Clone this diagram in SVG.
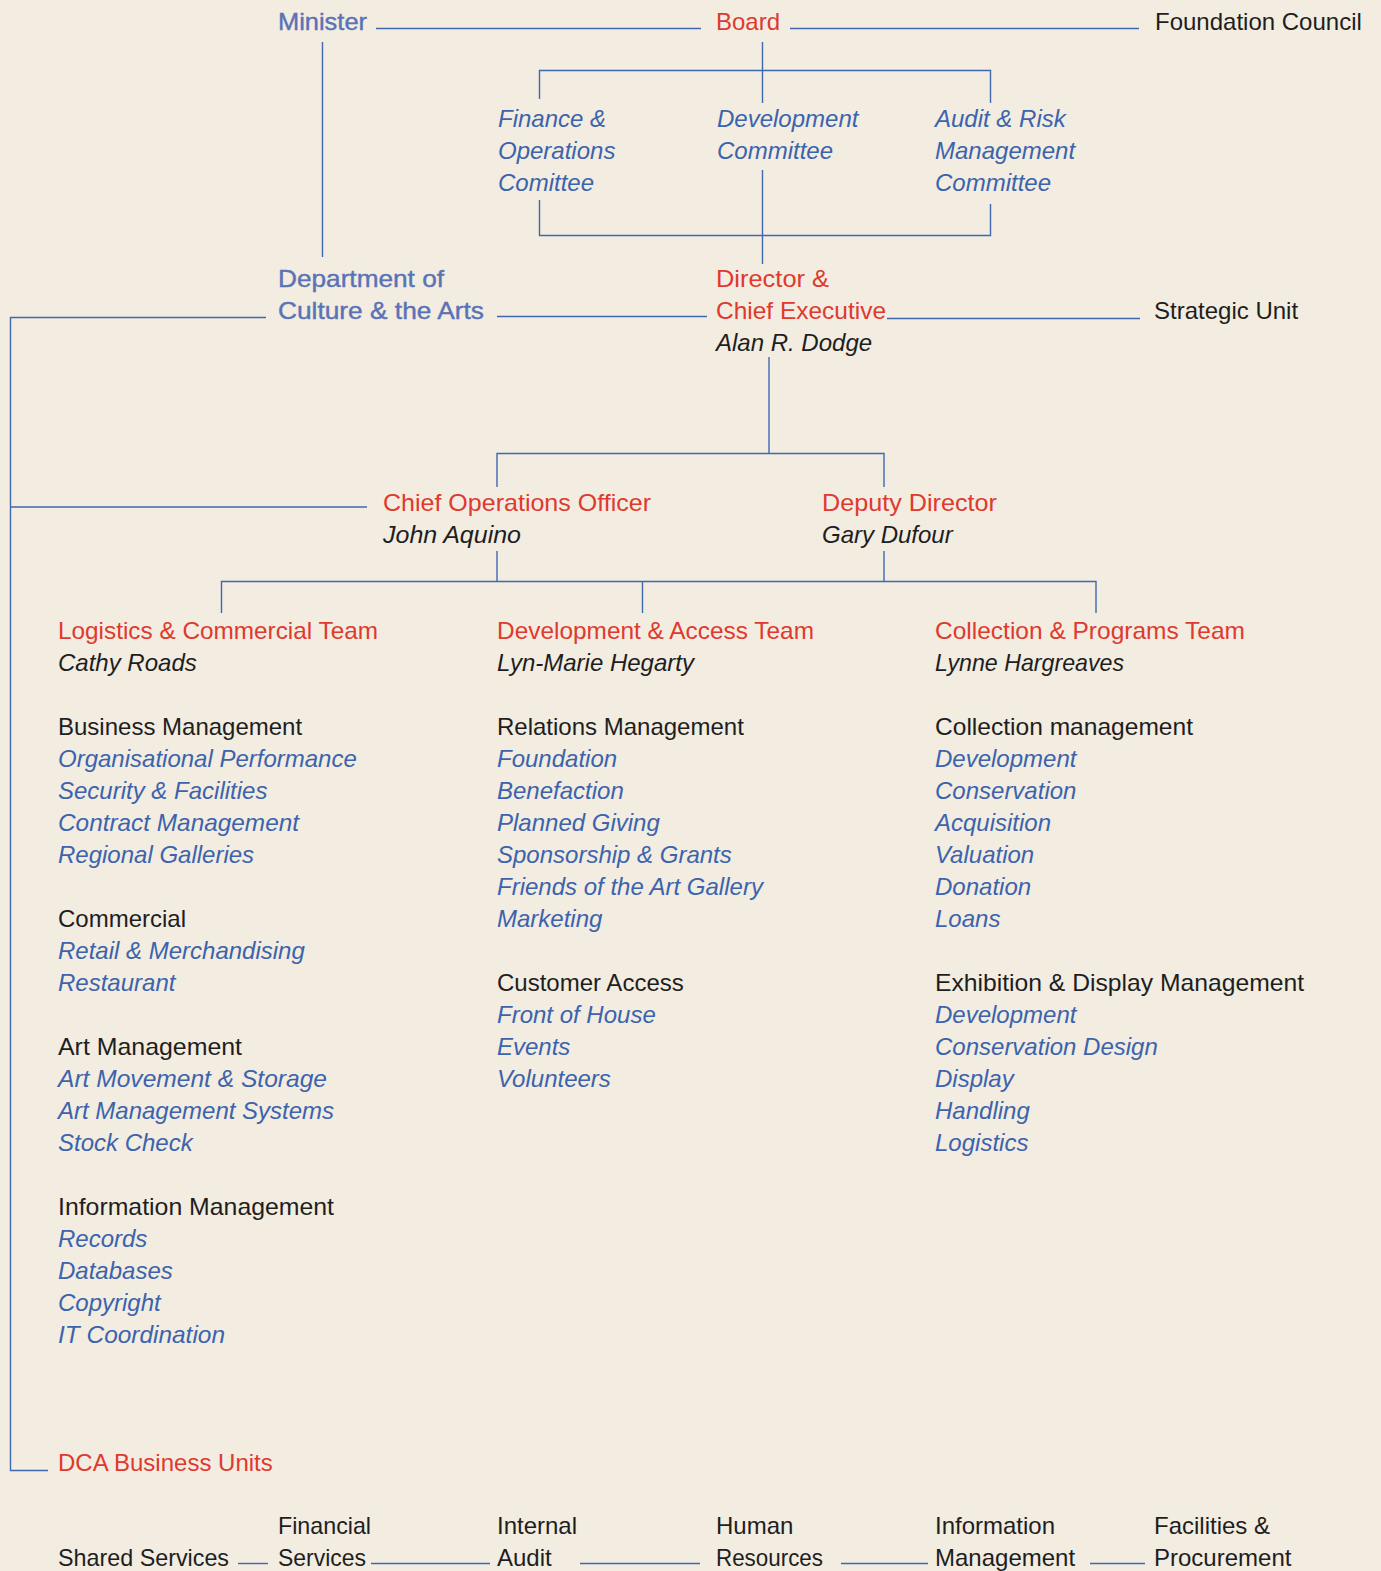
<svg xmlns="http://www.w3.org/2000/svg" width="1381" height="1571" viewBox="0 0 1381 1571">
<style>
text{font-family:"Liberation Sans",Arial,sans-serif;font-size:24px}
.red{fill:#E0392E}
.blk{fill:#1E1E1E}
.bi{fill:#3C63AD;font-style:italic}
.ki{fill:#1E1E1E;font-style:italic}
.gb{fill:#5A72B6;stroke:#5A72B6;stroke-width:0.4}
#connectors line,#connectors polyline{stroke:#4068AF;stroke-width:1.4;fill:none}
</style>
<rect x="0" y="0" width="1381" height="1571" fill="#F2ECE1"/>
<g id="connectors">
<line x1="376" y1="28.5" x2="701" y2="28.5"/>
<line x1="790" y1="28.5" x2="1139" y2="28.5"/>
<line x1="322.5" y1="42" x2="322.5" y2="257"/>
<line x1="762.5" y1="42" x2="762.5" y2="103"/>
<polyline points="539.5,99 539.5,70.5 990.5,70.5 990.5,103"/>
<polyline points="539.5,200 539.5,235.5 990.5,235.5 990.5,204"/>
<line x1="762.5" y1="170" x2="762.5" y2="264"/>
<line x1="10" y1="317.5" x2="266" y2="317.5"/>
<line x1="497" y1="316.5" x2="707" y2="316.5"/>
<line x1="887" y1="318.5" x2="1140" y2="318.5"/>
<polyline points="10.5,317 10.5,1470.5 48,1470.5"/>
<line x1="10" y1="507" x2="367" y2="507"/>
<line x1="769" y1="357" x2="769" y2="453.5"/>
<polyline points="497,487 497,453.5 884,453.5 884,487"/>
<line x1="497" y1="551" x2="497" y2="581.5"/>
<line x1="884" y1="551" x2="884" y2="581.5"/>
<polyline points="221.5,613 221.5,581.5 1096,581.5 1096,613"/>
<line x1="642.5" y1="581.5" x2="642.5" y2="613"/>
<line x1="238" y1="1563.5" x2="268" y2="1563.5"/>
<line x1="371" y1="1563.5" x2="490" y2="1563.5"/>
<line x1="580" y1="1563.5" x2="700" y2="1563.5"/>
<line x1="841" y1="1563.5" x2="928" y2="1563.5"/>
<line x1="1090" y1="1563.5" x2="1145" y2="1563.5"/>
</g>
<g id="minister"><text class="gb" x="278" y="30" textLength="89" lengthAdjust="spacingAndGlyphs">Minister</text></g>
<g id="board"><text class="red" x="716" y="30">Board</text></g>
<g id="foundation-council"><text class="blk" x="1155" y="30">Foundation Council</text></g>
<g id="finance-committee"><text class="bi" x="498" y="127">Finance &amp;</text><text class="bi" x="498" y="159">Operations</text><text class="bi" x="498" y="191">Comittee</text></g>
<g id="development-committee"><text class="bi" x="717" y="127">Development</text><text class="bi" x="717" y="159">Committee</text></g>
<g id="audit-committee"><text class="bi" x="935" y="127">Audit &amp; Risk</text><text class="bi" x="935" y="159">Management</text><text class="bi" x="935" y="191">Committee</text></g>
<g id="department"><text class="gb" x="278" y="287" textLength="166" lengthAdjust="spacingAndGlyphs">Department of</text><text class="gb" x="278" y="319" textLength="206" lengthAdjust="spacingAndGlyphs">Culture &amp; the Arts</text></g>
<g id="director"><text class="red" x="716" y="287" textLength="113" lengthAdjust="spacingAndGlyphs">Director &amp;</text><text class="red" x="716" y="319" textLength="170" lengthAdjust="spacingAndGlyphs">Chief Executive</text><text class="ki" x="716" y="351">Alan R. Dodge</text></g>
<g id="strategic-unit"><text class="blk" x="1154" y="319">Strategic Unit</text></g>
<g id="coo"><text class="red" x="383" y="511" textLength="268" lengthAdjust="spacingAndGlyphs">Chief Operations Officer</text><text class="ki" x="383" y="543" textLength="138" lengthAdjust="spacingAndGlyphs">John Aquino</text></g>
<g id="deputy"><text class="red" x="822" y="511" textLength="175" lengthAdjust="spacingAndGlyphs">Deputy Director</text><text class="ki" x="822" y="543">Gary Dufour</text></g>
<g id="logistics-team">
<text class="red" x="58" y="639" textLength="320" lengthAdjust="spacingAndGlyphs">Logistics &amp; Commercial Team</text>
<text class="ki" x="58" y="671">Cathy Roads</text>
<text class="blk" x="58" y="735">Business Management</text>
<text class="bi" x="58" y="767">Organisational Performance</text>
<text class="bi" x="58" y="799">Security &amp; Facilities</text>
<text class="bi" x="58" y="831" textLength="241" lengthAdjust="spacingAndGlyphs">Contract Management</text>
<text class="bi" x="58" y="863">Regional Galleries</text>
<text class="blk" x="58" y="927">Commercial</text>
<text class="bi" x="58" y="959">Retail &amp; Merchandising</text>
<text class="bi" x="58" y="991">Restaurant</text>
<text class="blk" x="58" y="1055" textLength="184" lengthAdjust="spacingAndGlyphs">Art Management</text>
<text class="bi" x="58" y="1087" textLength="269" lengthAdjust="spacingAndGlyphs">Art Movement &amp; Storage</text>
<text class="bi" x="58" y="1119">Art Management Systems</text>
<text class="bi" x="58" y="1151">Stock Check</text>
<text class="blk" x="58" y="1215" textLength="276" lengthAdjust="spacingAndGlyphs">Information Management</text>
<text class="bi" x="58" y="1247">Records</text>
<text class="bi" x="58" y="1279">Databases</text>
<text class="bi" x="58" y="1311">Copyright</text>
<text class="bi" x="58" y="1343" textLength="167" lengthAdjust="spacingAndGlyphs">IT Coordination</text>
</g>
<g id="development-team">
<text class="red" x="497" y="639" textLength="317" lengthAdjust="spacingAndGlyphs">Development &amp; Access Team</text>
<text class="ki" x="497" y="671">Lyn-Marie Hegarty</text>
<text class="blk" x="497" y="735">Relations Management</text>
<text class="bi" x="497" y="767">Foundation</text>
<text class="bi" x="497" y="799">Benefaction</text>
<text class="bi" x="497" y="831">Planned Giving</text>
<text class="bi" x="497" y="863">Sponsorship &amp; Grants</text>
<text class="bi" x="497" y="895">Friends of the Art Gallery</text>
<text class="bi" x="497" y="927">Marketing</text>
<text class="blk" x="497" y="991">Customer Access</text>
<text class="bi" x="497" y="1023">Front of House</text>
<text class="bi" x="497" y="1055">Events</text>
<text class="bi" x="497" y="1087">Volunteers</text>
</g>
<g id="collection-team">
<text class="red" x="935" y="639" textLength="310" lengthAdjust="spacingAndGlyphs">Collection &amp; Programs Team</text>
<text class="ki" x="935" y="671" textLength="189" lengthAdjust="spacingAndGlyphs">Lynne Hargreaves</text>
<text class="blk" x="935" y="735" textLength="258" lengthAdjust="spacingAndGlyphs">Collection management</text>
<text class="bi" x="935" y="767">Development</text>
<text class="bi" x="935" y="799">Conservation</text>
<text class="bi" x="935" y="831">Acquisition</text>
<text class="bi" x="935" y="863">Valuation</text>
<text class="bi" x="935" y="895">Donation</text>
<text class="bi" x="935" y="927">Loans</text>
<text class="blk" x="935" y="991" textLength="369" lengthAdjust="spacingAndGlyphs">Exhibition &amp; Display Management</text>
<text class="bi" x="935" y="1023">Development</text>
<text class="bi" x="935" y="1055">Conservation Design</text>
<text class="bi" x="935" y="1087">Display</text>
<text class="bi" x="935" y="1119">Handling</text>
<text class="bi" x="935" y="1151">Logistics</text>
</g>
<g id="dca-business-units"><text class="red" x="58" y="1471">DCA Business Units</text></g>
<g id="shared-services"><text class="blk" x="58" y="1566" textLength="171" lengthAdjust="spacingAndGlyphs">Shared Services</text></g>
<g id="financial-services"><text class="blk" x="278" y="1534" textLength="93" lengthAdjust="spacingAndGlyphs">Financial</text><text class="blk" x="278" y="1566" textLength="88" lengthAdjust="spacingAndGlyphs">Services</text></g>
<g id="internal-audit"><text class="blk" x="497" y="1534">Internal</text><text class="blk" x="497" y="1566">Audit</text></g>
<g id="human-resources"><text class="blk" x="716" y="1534">Human</text><text class="blk" x="716" y="1566" textLength="107" lengthAdjust="spacingAndGlyphs">Resources</text></g>
<g id="information-management"><text class="blk" x="935" y="1534">Information</text><text class="blk" x="935" y="1566">Management</text></g>
<g id="facilities-procurement"><text class="blk" x="1154" y="1534">Facilities &amp;</text><text class="blk" x="1154" y="1566">Procurement</text></g>
</svg>
